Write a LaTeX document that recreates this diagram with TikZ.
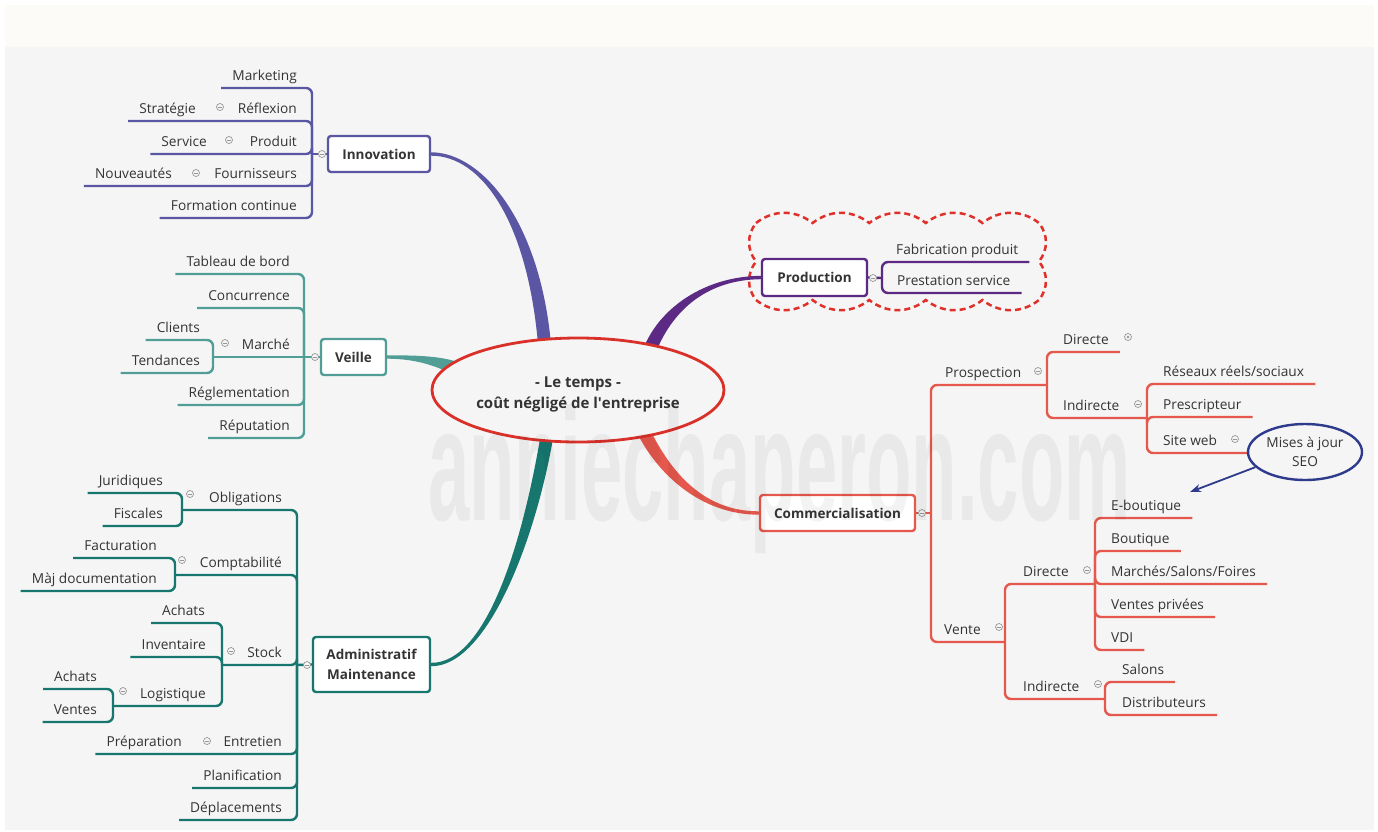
\documentclass[tikz,border=0pt]{standalone}
\usepackage{fontspec}
\setmainfont{Open Sans}
\newfontfamily\wmfont{Liberation Sans}
\usetikzlibrary{arrows.meta,calc,shapes.geometric}

% colours
\definecolor{txt}{RGB}{52,52,52}
\definecolor{bgray}{RGB}{245,245,245}
\definecolor{band}{RGB}{253,251,248}
\definecolor{inno}{RGB}{91,86,163}
\definecolor{veil}{RGB}{80,158,150}
\definecolor{admi}{RGB}{23,119,111}
\definecolor{prodc}{RGB}{92,42,133}
\definecolor{comm}{RGB}{229,88,77}
\definecolor{hubred}{RGB}{217,49,42}
\definecolor{cloudred}{RGB}{224,48,42}
\definecolor{seoblue}{RGB}{46,58,140}
\definecolor{foldgray}{RGB}{150,150,150}

\tikzset{
  lf/.style={anchor=south east, inner xsep=11pt, inner ysep=7pt, text depth=0pt,
    font=\fontsize{13.7}{16}\selectfont, text=txt},
  rt/.style={lf, anchor=south west},
  twig/.style={line width=2.4pt, rounded corners=6pt},
  fold/.style={circle, draw=foldgray, fill=bgray, minimum size=7pt, inner sep=0pt, line width=0.7pt,
    path picture={\draw[foldgray, line width=0.6pt] ([xshift=-1.7pt]path picture bounding box.center) -- ([xshift=1.7pt]path picture bounding box.center);}},
  foldc/.style={fold, path picture={\fill[foldgray] (path picture bounding box.center) circle (1.4pt);}},
  topic/.style={draw=#1, line width=2.4pt, rounded corners=3pt, fill=white, text=txt, align=center,
    font=\bfseries\fontsize{13.5}{20}\selectfont, inner sep=0pt, minimum height=36pt},
  cloudline/.style={draw=cloudred, line width=2.5pt, dash pattern=on 6pt off 4pt},
}

% tapered main branch: colour, thin end, ctrl, ctrl, thick end, half width x, y
\newcommand\branch[7]{%
  \fill[#1] ($(#2)+(0,-1.7)$) .. controls ($(#3)+(0,-1.7)$) and ($(#4)+(#6,#7)$) .. ($(#5)+(#6,#7)$)
    -- ($(#5)-(#6,#7)$) .. controls ($(#4)-(#6,#7)$) and ($(#3)+(0,1.7)$) .. ($(#2)+(0,1.7)$) -- cycle;}

\begin{document}
\begin{tikzpicture}[x=1pt, y=-1pt]
\useasboundingbox (0,0) rectangle (1378,831);
%% background
\fill[white] (0,0) rectangle (1378,831);
\fill[band] (5,5) rectangle (1374,47);
\fill[bgray] (5,47) rectangle (1374,830);

%% topics
\node[topic=inno, minimum width=102pt] (inn) at (379,154) {Innovation};
\node[topic=veil, minimum width=65pt] (vei) at (353.5,357) {Veille};
\node[topic=admi, minimum width=117pt, minimum height=55pt] (adm) at (371.5,664.5) {Administratif\\Maintenance};
\node[topic=prodc, minimum width=105pt, minimum height=37pt] (pro) at (814.5,277.5) {Production};
\node[topic=comm, minimum width=155pt] (com) at (837.5,513) {Commercialisation};

%% cloud round production
\draw[cloudline] (756,223)
  foreach \k in {1,...,5} { to[bend left=38] ++(56.6,0) }
  foreach \k in {1,2} { to[bend left=38] ++(0,38.5) }
  foreach \k in {1,...,5} { to[bend left=38] ++(-56.6,0) }
  foreach \k in {1,2} { to[bend left=38] ++(0,-38.5) };

%% main branches
\coordinate (rinn) at (545,350);
\coordinate (rvei) at (466,373);
\coordinate (radm) at (548,430);
\coordinate (rpro) at (649,352);
\coordinate (rcom) at (642,428);
\branch{inno}{inn.east}{482,154}{535,222}{rinn}{6.5}{0}
\branch{veil}{vei.east}{420,357}{445,362}{rvei}{3.2}{-6.2}
\branch{admi}{adm.east}{487,665}{530,540}{radm}{-6.5}{0}
\branch{prodc}{pro.west}{705,278}{665,310}{rpro}{-6.1}{-2.3}
\branch{comm}{com.west}{700,513}{662,470}{rcom}{5.9}{-2.8}

%% Innovation
\coordinate (ihub) at (312,154);
\node[lf] (mkt) at (308,88) {Marketing};
\node[lf] (refl) at (308,121) {Réflexion};
\node[lf] (strat) at (207,121) {Stratégie};
\node[lf] (prodt) at (308,154) {Produit};
\node[lf] (serv) at (218,154) {Service};
\node[lf] (fourn) at (308,186) {Fournisseurs};
\node[lf] (nouv) at (183,186) {Nouveautés};
\node[lf] (form) at (308,218) {Formation continue};
\foreach \n in {mkt,strat,serv,nouv,form}
  \draw[twig, inno] (ihub) |- (\n.south west);
\draw[twig, inno] (inn.west) -- (ihub);

%% Veille
\coordinate (vhub) at (304,357);
\coordinate (mhub) at (213,357);
\node[lf] (tab) at (301,274) {Tableau de bord};
\node[lf] (conc) at (301,308) {Concurrence};
\node[lf] (march) at (301,357) {Marché};
\node[lf] (cli) at (211,340) {Clients};
\node[lf] (tend) at (211,373) {Tendances};
\node[lf] (regl) at (301,405) {Réglementation};
\node[lf] (reput) at (301,438) {Réputation};
\foreach \n in {tab,conc,regl,reput}
  \draw[twig, veil] (vhub) |- (\n.south west);
\draw[twig, veil] (vhub) -- (mhub);
\foreach \n in {cli,tend}
  \draw[twig, veil] (mhub) |- (\n.south west);
\draw[twig, veil] (vei.west) -- (vhub);

%% Administratif
\coordinate (ahub) at (297,665);
\coordinate (ohub) at (182,510);
\coordinate (chub) at (175,575);
\coordinate (shub) at (222,665);
\coordinate (lhub) at (113,706);
\node[lf] (oblig) at (293,510) {Obligations};
\node[lf] (jur) at (174,493) {Juridiques};
\node[lf] (fisc) at (174,526) {Fiscales};
\node[lf] (compt) at (293,575) {Comptabilité};
\node[lf] (fact) at (168,558) {Facturation};
\node[lf] (majd) at (168,591) {Màj documentation};
\node[lf] (stock) at (293,665) {Stock};
\node[lf] (ach) at (216,623) {Achats};
\node[lf] (inv) at (217,657) {Inventaire};
\node[lf] (logi) at (217,706) {Logistique};
\node[lf] (ach2) at (108,689) {Achats};
\node[lf] (vent) at (108,722) {Ventes};
\node[lf] (entr) at (293,754) {Entretien};
\node[lf] (prep) at (193,754) {Préparation};
\node[lf] (plan) at (293,788) {Planification};
\node[lf] (depl) at (293,820) {Déplacements};
\foreach \h in {ohub,chub,shub}
  \draw[twig, admi] (ahub) |- (\h);
\foreach \n in {prep,plan,depl}
  \draw[twig, admi] (ahub) |- (\n.south west);
\foreach \n in {jur,fisc}
  \draw[twig, admi] (ohub) |- (\n.south west);
\foreach \n in {fact,majd}
  \draw[twig, admi] (chub) |- (\n.south west);
\foreach \n in {ach,inv}
  \draw[twig, admi] (shub) |- (\n.south west);
\draw[twig, admi] (shub) |- (lhub);
\foreach \n in {ach2,vent}
  \draw[twig, admi] (lhub) |- (\n.south west);
\draw[twig, admi] (adm.west) -- (ahub);

%% Production
\coordinate (phub) at (882,278);
\node[rt] (fab) at (885,262) {Fabrication produit};
\node[rt] (prest) at (886,293) {Prestation service};
\foreach \n in {fab,prest}
  \draw[twig, prodc] (phub) |- (\n.south east);
\draw[twig, prodc] (pro.east) -- (phub);

%% Commercialisation
\coordinate (cmhub) at (931,513);
\coordinate (prhub) at (1047,385);
\coordinate (inhub) at (1147,418);
\coordinate (vthub) at (1005,642);
\coordinate (dvhub) at (1095,584);
\coordinate (ivhub) at (1105,699);
\node[rt] (prosp) at (934,385) {Prospection};
\node[rt] (dir1) at (1052,352) {Directe};
\node[rt] (ind1) at (1052,418) {Indirecte};
\node[rt] (res) at (1152,384) {Réseaux réels/sociaux};
\node[rt] (presc) at (1152,417) {Prescripteur};
\node[rt] (site) at (1152,453) {Site web};
\node[rt] (vente) at (933,642) {Vente};
\node[rt] (dir2) at (1012,584) {Directe};
\node[rt] (eb) at (1100,518) {E-boutique};
\node[rt] (bout) at (1100,551) {Boutique};
\node[rt] (msf) at (1100,584) {Marchés/Salons/Foires};
\node[rt] (vp) at (1100,617) {Ventes privées};
\node[rt] (vdi) at (1100,650) {VDI};
\node[rt] (ind2) at (1012,699) {Indirecte};
\node[rt] (sal) at (1111,682) {Salons};
\node[rt] (dist) at (1111,715) {Distributeurs};
\foreach \h in {prhub,vthub}
  \draw[twig, comm] (cmhub) |- (\h);
\draw[twig, comm] (prhub) |- (dir1.south east);
\draw[twig, comm] (prhub) |- (inhub);
\foreach \n in {res,presc}
  \draw[twig, comm] (inhub) |- (\n.south east);
\draw[twig, comm] (inhub) |- ([xshift=19pt]site.south east);
\draw[twig, comm] (vthub) |- (dvhub);
\draw[twig, comm] (vthub) |- (ivhub);
\foreach \n in {eb,bout,msf,vp,vdi}
  \draw[twig, comm] (dvhub) |- (\n.south east);
\foreach \n in {sal,dist}
  \draw[twig, comm] (ivhub) |- (\n.south east);
\draw[twig, comm] (com.east) -- (cmhub);

%% fold markers
\node[fold] (fInn) at (322,154) {};
\node[fold] (fRefl) at (220,107) {};
\node[fold] (fProd) at (229,140) {};
\node[fold] (fFour) at (196,173) {};
\node[fold] (fVei) at (315,357) {};
\node[fold] (fMar) at (225,343) {};
\node[fold] (fAdm) at (307,665) {};
\node[fold] (fObl) at (190,494) {};
\node[fold] (fCpt) at (182,560) {};
\node[fold] (fSto) at (231,651) {};
\node[fold] (fLog) at (123,691) {};
\node[fold] (fEnt) at (207,741) {};
\node[fold] (fPro) at (873,278) {};
\node[fold] (fCom) at (922,513) {};
\node[fold] (fPsp) at (1038,371) {};
\node[foldc] (fDir) at (1128,337) {};
\node[fold] (fInd) at (1138,404) {};
\node[fold] (fSit) at (1235,439) {};
\node[fold] (fVen) at (999,627) {};
\node[fold] (fDv) at (1087,570) {};
\node[fold] (fIv) at (1098,684) {};

%% centre
\node[ellipse, draw=hubred, line width=2.8pt, fill=bgray, minimum width=292pt, minimum height=104pt, inner sep=0pt] (core) at (578,390) {};
\node[align=center, font=\bfseries\fontsize{15}{21}\selectfont, text=txt] (coretxt) at (578,394) {- Le temps -\\coût négligé de l\textquotesingle entreprise};

%% note
\node[ellipse, draw=seoblue, line width=2.4pt, fill=bgray, minimum width=114pt, minimum height=56pt, inner sep=0pt, align=center, font=\fontsize{13.7}{19}\selectfont, text=txt] (seo) at (1305,452) {Mises à jour\\SEO};
\coordinate (seotip) at (1190,492);
\draw[seoblue, line width=1.8pt, -{Stealth[length=11pt,width=8pt]}] (seo.197) -- (seotip);

%% watermark on top
\node[font=\wmfont\bfseries\fontsize{160}{160}\selectfont, text=black, text opacity=0.048, xscale=0.465, anchor=base west, inner sep=0pt] (wm) at (428,520) {anniechaperon.com};
\end{tikzpicture}
\end{document}
